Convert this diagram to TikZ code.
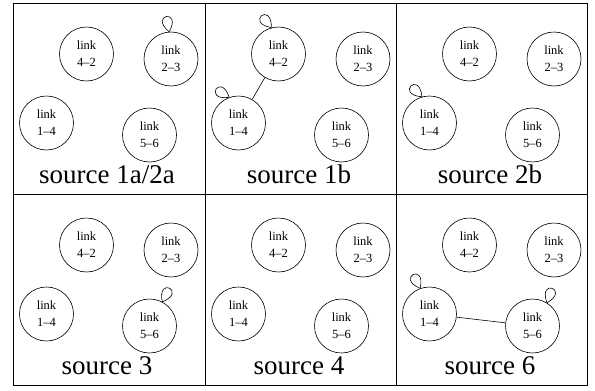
\documentclass[tikz,border=0pt]{standalone}
\usepackage{fontspec}
\setmainfont{Liberation Serif}
\begin{document}
\begin{tikzpicture}[x=1pt,y=-1pt,
  linknode/.style={circle,draw,line width=0.6pt,minimum size=54pt,inner sep=0pt,
    align=center,font=\fontsize{12.5}{17}\selectfont},
  srclabel/.style={anchor=base,font=\fontsize{27}{30}\selectfont},
  frame/.style={line width=0.9pt},
  link/.style={line width=0.6pt}]
\useasboundingbox (0,0) rectangle (595,391);

% the four link nodes of one panel, named with a prefix
\newcommand\panelnodes[1]{%
  \node[linknode] (#1a) at (73.5,51)  {link\\4–2};
  \node[linknode] (#1b) at (158,56)   {link\\2–3};
  \node[linknode] (#1c) at (33.5,120) {link\\1–4};
  \node[linknode] (#1d) at (136.5,132) {link\\5–6};}
% small self loop: node, attach angle, direction
\newcommand\selfloop[3]{%
  \draw[link] (#1.#2) .. controls +({#3+40}:27pt) and +({#3-40}:27pt) .. (#1.#2);}

% panel frame
\draw[frame] (13,3) rectangle (587,385);
\draw[frame] (205,3) -- (205,385);
\draw[frame] (396,3) -- (396,385);
\draw[frame] (13,194) -- (587,194);

% source 1a/2a
\begin{scope}[shift={(13,3)}]
  \panelnodes{p}
  \selfloop{pb}{94}{100}
  \node[srclabel] (pl) at (94,180) {source 1a/2a};
\end{scope}

% source 1b
\begin{scope}[shift={(205,3)}]
  \panelnodes{q}
  \draw[link] (qa) -- (qc);
  \selfloop{qa}{105}{130}
  \selfloop{qc}{110}{148}
  \node[srclabel] (ql) at (94,180) {source 1b};
\end{scope}

% source 2b
\begin{scope}[shift={(396,3)}]
  \panelnodes{r}
  \selfloop{rc}{106}{136}
  \node[srclabel] (rl) at (94,180) {source 2b};
\end{scope}

% source 3
\begin{scope}[shift={(13,194)}]
  \panelnodes{s}
  \selfloop{sd}{62}{62}
  \node[srclabel] (sl) at (94,180) {source 3};
\end{scope}

% source 4
\begin{scope}[shift={(205,194)}]
  \panelnodes{t}
  \node[srclabel] (tl) at (94,180) {source 4};
\end{scope}

% source 6
\begin{scope}[shift={(396,194)}]
  \panelnodes{u}
  \draw[link] (uc) -- (ud);
  \selfloop{uc}{110}{117}
  \selfloop{ud}{58}{70}
  \node[srclabel] (ul) at (94,180) {source 6};
\end{scope}
\end{tikzpicture}
\end{document}
